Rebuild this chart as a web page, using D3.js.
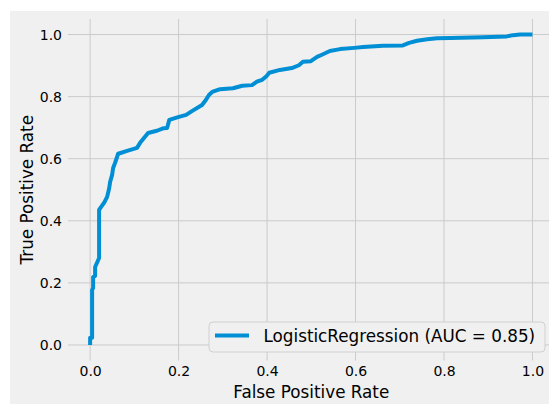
<!DOCTYPE html>
<html>
<head>
<meta charset="utf-8">
<script src="https://cdn.jsdelivr.net/npm/d3@7"></script>
<style>
  body { margin: 0; background: #fff; }
  text { font-family: "DejaVu Sans", sans-serif; fill: #000; }
</style>
</head>
<body>
<div id="chart"></div>
<script>
// ROC curve
const fpr = [0, 0, 0.0045, 0.0045, 0.0068, 0.0068, 0.0113, 0.0113, 0.0203, 0.0203,
    0.0249, 0.0316, 0.0384, 0.0429, 0.0452, 0.0497, 0.052, 0.0565, 0.061, 0.0633,
    0.0723, 0.0836, 0.106, 0.113, 0.131, 0.151, 0.165, 0.174, 0.179, 0.197,
    0.217, 0.231, 0.253, 0.262, 0.269, 0.276, 0.294, 0.323, 0.344, 0.366,
    0.377, 0.389, 0.398, 0.405, 0.429, 0.456, 0.472, 0.481, 0.499, 0.513,
    0.524, 0.542, 0.565, 0.597, 0.617, 0.662, 0.707, 0.721, 0.739, 0.762,
    0.784, 0.814, 0.888, 0.942, 0.956, 0.972, 1.0];
const tpr = [0, 0.023, 0.023, 0.177, 0.184, 0.219, 0.222, 0.251, 0.280, 0.435,
    0.445, 0.458, 0.477, 0.503, 0.525, 0.548, 0.570, 0.587, 0.606, 0.616,
    0.620, 0.625, 0.635, 0.651, 0.683, 0.690, 0.698, 0.699, 0.725, 0.733,
    0.741, 0.754, 0.773, 0.790, 0.806, 0.815, 0.824, 0.827, 0.835, 0.837,
    0.848, 0.854, 0.865, 0.877, 0.886, 0.892, 0.901, 0.912, 0.914, 0.928,
    0.935, 0.947, 0.953, 0.957, 0.960, 0.964, 0.965, 0.973, 0.980, 0.985,
    0.988, 0.989, 0.991, 0.994, 0.998, 1.0, 1.0];
const ticks = [0, 0.2, 0.4, 0.6, 0.8, 1.0];
const seriesName = 'LogisticRegression (AUC = 0.85)';

const width = 549, height = 404;
const svg = d3.select('#chart')
    .append('svg')
    .attr('width', width)
    .attr('height', height);

// figure background (picture is cropped, white strip top/left)
svg.append('rect')
    .attr('x', 10).attr('y', 11)
    .attr('width', width - 10).attr('height', height - 11)
    .attr('fill', '#f0f0f0');

const x = d3.scaleLinear().domain([-0.05, 1.05]).range([68, 554.6]);
const y = d3.scaleLinear().domain([-0.05, 1.05]).range([360.5, 19]);

const grid = svg.append('g');
grid.selectAll('line.vx')
    .data(ticks)
    .enter().append('line')
    .attr('class', 'vx')
    .attr('x1', d => x(d)).attr('x2', d => x(d))
    .attr('y1', y(1.05)).attr('y2', y(-0.05))
    .attr('stroke', '#cbcbcb')
    .attr('stroke-width', 1);
grid.selectAll('line.hy')
    .data(ticks)
    .enter().append('line')
    .attr('class', 'hy')
    .attr('x1', x(-0.05)).attr('x2', x(1.05))
    .attr('y1', d => y(d)).attr('y2', d => y(d))
    .attr('stroke', '#cbcbcb')
    .attr('stroke-width', 1);

// tick labels via axes, with no tick marks or domain line
const xAxis = svg.append('g')
    .attr('transform', `translate(0,${y(-0.05)})`)
    .call(d3.axisBottom(x).tickValues(ticks).tickFormat(d3.format('.1f')).tickSize(0).tickPadding(6));
const yAxis = svg.append('g')
    .attr('transform', `translate(${x(-0.05)},0)`)
    .call(d3.axisLeft(y).tickValues(ticks).tickFormat(d3.format('.1f')).tickSize(0).tickPadding(6));
[xAxis, yAxis].forEach(a => {
    a.select('.domain').remove();
    a.selectAll('text')
        .attr('font-family', '"DejaVu Sans", sans-serif')
        .attr('font-size', 14)
        .attr('fill', '#000');
});

svg.append('text')
    .attr('x', (x(-0.05) + x(1.05)) / 2)
    .attr('y', 398)
    .attr('text-anchor', 'middle')
    .attr('font-size', 16.8)
    .text('False Positive Rate');
svg.append('text')
    .attr('transform', `translate(33,${(y(-0.05) + y(1.05)) / 2}) rotate(-90)`)
    .attr('text-anchor', 'middle')
    .attr('font-size', 16.8)
    .text('True Positive Rate');

const line = d3.line()
    .x((d, i) => x(fpr[i]))
    .y((d, i) => y(tpr[i]));
svg.append('path')
    .datum(fpr)
    .attr('d', line)
    .attr('fill', 'none')
    .attr('stroke', '#008fd5')
    .attr('stroke-width', 4)
    .attr('stroke-linejoin', 'round');

// legend
const leg = svg.append('g').attr('transform', 'translate(209,322)');
leg.append('rect')
    .attr('width', 336).attr('height', 30)
    .attr('rx', 4)
    .attr('fill', '#f0f0f0')
    .attr('stroke', '#d0d0d0')
    .attr('stroke-width', 1);
leg.append('line')
    .attr('x1', 6).attr('x2', 40)
    .attr('y1', 13.5).attr('y2', 13.5)
    .attr('stroke', '#008fd5')
    .attr('stroke-width', 4);
leg.append('text')
    .attr('x', 54.5).attr('y', 19.7)
    .attr('font-size', 16.8)
    .text(seriesName);
</script>
</body>
</html>
